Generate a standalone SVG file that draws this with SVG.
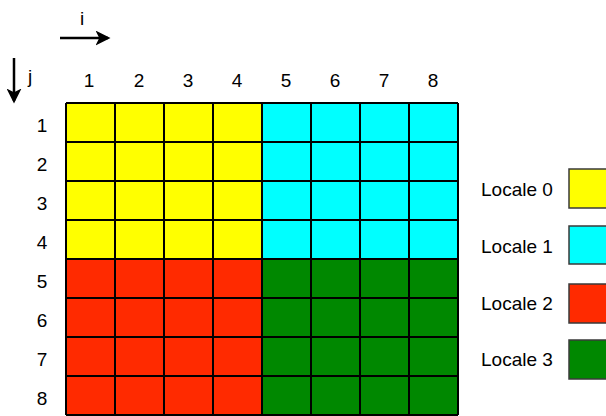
<svg xmlns="http://www.w3.org/2000/svg" width="606" height="416" viewBox="0 0 606 416">
<style>
text{font-family:"Liberation Sans",Arial,sans-serif;font-size:19px;fill:#000}
.y{fill:#FFFF00}.c{fill:#00FFFF}.r{fill:#FF2A00}.g{fill:#008800}
.grid{stroke:#000;stroke-width:2;fill:none}
.lb{stroke:#3a3a3a;stroke-width:1.5}
.arr{stroke:#000;stroke-width:2.5;fill:none}
</style>
<defs>
<marker id="ah" markerWidth="6" markerHeight="6" refX="5" refY="3" orient="auto" markerUnits="strokeWidth">
<path d="M0,0 L6,3 L0,6 L1.5,3 z" fill="#000"/>
</marker>
</defs>
<g id="axes">
<line class="arr" x1="60" y1="38" x2="108" y2="38" marker-end="url(#ah)"/>
<text x="80" y="25">i</text>
<line class="arr" x1="14" y1="58" x2="14" y2="101" marker-end="url(#ah)"/>
<text x="28" y="83">j</text>
</g>
<g id="col-labels" text-anchor="middle">
<text x="89" y="87">1</text><text x="139" y="87">2</text><text x="188" y="87">3</text><text x="237" y="87">4</text>
<text x="286" y="87">5</text><text x="335" y="87">6</text><text x="384" y="87">7</text><text x="433" y="87">8</text>
</g>
<g id="row-labels" text-anchor="middle">
<text x="42" y="132">1</text><text x="42" y="171">2</text><text x="42" y="210">3</text><text x="42" y="249">4</text>
<text x="42" y="288">5</text><text x="42" y="327">6</text><text x="42" y="366">7</text><text x="42" y="405">8</text>
</g>
<g id="grid">
<rect class="y" x="66" y="103" width="196" height="156"/>
<rect class="c" x="262" y="103" width="196" height="156"/>
<rect class="r" x="66" y="259" width="196" height="156"/>
<rect class="g" x="262" y="259" width="196" height="156"/>
<path class="grid" d="M66,103V415M115,103V415M164,103V415M213,103V415M262,103V415M311,103V415M360,103V415M409,103V415M458,103V415
M66,103H458M66,142H458M66,181H458M66,220H458M66,259H458M66,298H458M66,337H458M66,376H458M66,415H458"/>
</g>
<g id="legend0"><text x="481" y="196">Locale 0</text><rect class="y lb" x="569" y="169" width="40" height="39"/></g>
<g id="legend1"><text x="481" y="253">Locale 1</text><rect class="c lb" x="569" y="226" width="40" height="38"/></g>
<g id="legend2"><text x="481" y="310">Locale 2</text><rect class="r lb" x="569" y="284" width="40" height="39"/></g>
<g id="legend3"><text x="481" y="366">Locale 3</text><rect class="g lb" x="569" y="340" width="40" height="39"/></g>
</svg>
